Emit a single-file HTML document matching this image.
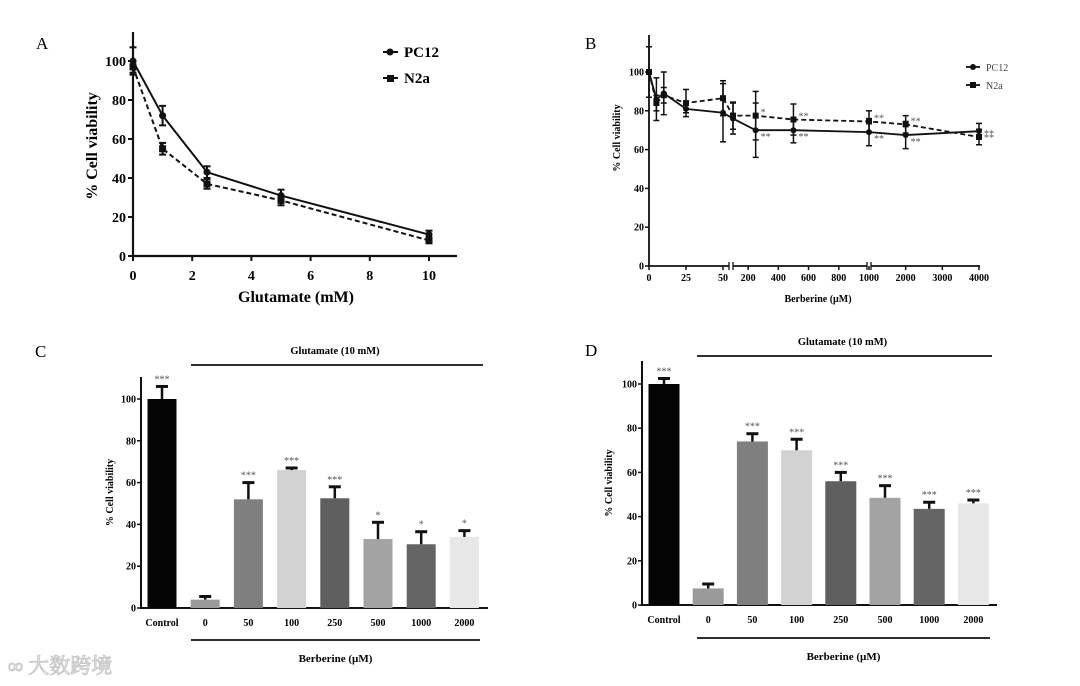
<!DOCTYPE html>
<html><head><meta charset="utf-8">
<style>
html,body{margin:0;padding:0;background:#fff;}
svg{display:block;}
text{font-family:"Liberation Serif","Noto Serif CJK SC",serif;}
</style></head>
<body>
<svg id="fig" width="1080" height="686" viewBox="0 0 1080 686"></svg>
<script>
// ---------- Panel A data ----------
const aX = [0, 1, 2.5, 5, 10];
const aPC12 = [100, 72, 43, 31, 11];
const aPC12Err = [7, 5, 3, 3, 2];
const aN2a = [97, 55, 37, 28.5, 8];
const aN2aErr = [3, 3, 2.5, 2.5, 1.5];
const aXTicks = [0, 2, 4, 6, 8, 10];
const aYTicks = [0, 20, 40, 60, 80, 100];

// ---------- Panel B data ----------
const bX = [0, 5, 10, 25, 50, 100, 250, 500, 1000, 2000, 4000];
const bPC12 = [100, 86, 89, 81, 79, 76, 70, 70, 69, 67.5, 69.5];
const bPC12Err = [13, 11, 11, 2, 15, 8, 14, 6.5, 7, 7, 4];
const bN2a = [100, 84, 88, 84, 86.5, 77.5, 77.5, 75.5, 74.5, 73, 66.5];
const bN2aErr = [0, 4, 4, 7, 9, 7, 12.5, 8, 5.5, 4.5, 4];
const bPC12Stars = ["", "", "", "", "", "", "**", "**", "**", "**", "**"];
const bN2aStars = ["", "", "", "", "", "", "*", "**", "**", "**", "**"];
const bXTicks = [0, 25, 50, 200, 400, 600, 800, 1000, 2000, 3000, 4000];
const bYTicks = [0, 20, 40, 60, 80, 100];

// ---------- Panel C data ----------
const cCats = ["Control", "0", "50", "100", "250", "500", "1000", "2000"];
const cVals = [100, 4, 52, 66, 52.5, 33, 30.5, 34];
const cErr = [6, 1.5, 8, 1, 5.5, 8, 6, 3];
const cStars = ["***", "", "***", "***", "***", "*", "*", "*"];

// ---------- Panel D data ----------
const dCats = ["Control", "0", "50", "100", "250", "500", "1000", "2000"];
const dVals = [100, 7.5, 74, 70, 56, 48.5, 43.5, 46];
const dErr = [2.5, 2, 3.5, 5, 4, 5.5, 3, 1.5];
const dStars = ["***", "", "***", "***", "***", "***", "***", "***"];

const barTicks = [0, 20, 40, 60, 80, 100];
const barColors = ["#050505", "#9a9a9a", "#7f7f7f", "#d2d2d2", "#5f5f5f", "#a3a3a3", "#656565", "#e8e8e8"];

const NS = "http://www.w3.org/2000/svg";
const svg = document.getElementById("fig");
function el(tag, attrs, parent) {
  const e = document.createElementNS(NS, tag);
  for (const k in attrs) e.setAttribute(k, attrs[k]);
  (parent || svg).appendChild(e);
  return e;
}
function txt(s, attrs, parent) { const t = el("text", attrs, parent); t.textContent = s; return t; }
function line(x1, y1, x2, y2, w, parent, dash) {
  const a = {x1, y1, x2, y2, stroke: "#111", "stroke-width": w};
  if (dash) a["stroke-dasharray"] = dash;
  return el("line", a, parent);
}

// ================= PANEL A =================
(function () {
  const g = el("g", {});
  
  
  const sx = v => 133 + v * 29.6;
  const sy = v => 256 - v * 1.95;
  txt("A", {x: 36, y: 49, "font-size": 17}, g);
  line(133, 32, 133, 257, 2.2, g);
  line(132, 256, 457, 256, 2.2, g);
  aYTicks.forEach(t => {
    line(128, sy(t), 133, sy(t), 2, g);
    const lb = txt(String(t), {x: 126, y: sy(t) + 5, "font-size": 14, "font-weight": "bold", "text-anchor": "end"}, g);
    
    
  });
  aXTicks.forEach(t => {
    line(sx(t), 256, sx(t), 261, 2, g);
    const lb = txt(String(t), {x: sx(t), y: 280, "font-size": 14, "font-weight": "bold", "text-anchor": "middle"}, g);
    
    
  });
  const xt = txt("Glutamate (mM)", {x: 296, y: 302, "font-size": 16, "font-weight": "bold", "text-anchor": "middle"}, g);
  
  
  const yt = txt("% Cell viability", {x: 0, y: 0, "font-size": 16, "font-weight": "bold", "text-anchor": "middle", transform: "translate(97,146) rotate(-90)"}, g);
  
  
  function series(ys, errs, dash, name, marker) {
    const pts = aX.map((x, i) => sx(x) + "," + sy(ys[i])).join(" ");
    const pl = el("polyline", {points: pts, fill: "none", stroke: "#111", "stroke-width": 2, "stroke-dasharray": dash || "none"}, g);
    
    
    aX.forEach((x, i) => {
      const cx = sx(x), cy = sy(ys[i]), e = errs[i] * 1.95;
      line(cx, cy - e, cx, cy + e, 2, g);
      line(cx - 3.5, cy - e, cx + 3.5, cy - e, 2, g);
      line(cx - 3.5, cy + e, cx + 3.5, cy + e, 2, g);
      const m = marker === "circle" ? el("circle", {cx, cy, r: 3.5, fill: "#111"}, g)
        : el("rect", {x: cx - 3.5, y: cy - 3.5, width: 7, height: 7, fill: "#111"}, g);
      
      
    });
  }
  series(aPC12, aPC12Err, null, "pc12", "circle");
  series(aN2a, aN2aErr, "5,3", "n2a", "square");
  const l1 = el("g", {}, g);
  
  
  line(383, 52, 398, 52, 2, l1); el("circle", {cx: 390, cy: 52, r: 3.5, fill: "#111"}, l1);
  txt("PC12", {x: 404, y: 57, "font-size": 15, "font-weight": "bold"}, l1);
  const l2 = el("g", {}, g);
  
  
  line(383, 78, 398, 78, 2, l2); el("rect", {x: 387, y: 75, width: 7, height: 7, fill: "#111"}, l2);
  txt("N2a", {x: 404, y: 83, "font-size": 15, "font-weight": "bold"}, l2);
})();

// ================= PANEL B =================
(function () {
  const g = el("g", {});
  
  
  function sx(v) {
    if (v <= 50) return 649 + v * 74 / 50;
    if (v <= 1000) return 733 + (v - 100) * (869 - 733) / 900;
    return 869 + (v - 1000) * 110 / 3000;
  }
  const sy = v => 266 - v * 1.94;
  txt("B", {x: 585, y: 49, "font-size": 17}, g);
  line(649, 35, 649, 267, 1.8, g);
  line(648, 266, 980, 266, 1.8, g);
  // axis breaks
  [731, 869].forEach(bx => {
    el("rect", {x: bx - 2, y: 262, width: 4, height: 8, fill: "#fff"}, g);
    line(bx - 2, 262, bx - 2, 270, 1.3, g); line(bx + 2, 262, bx + 2, 270, 1.3, g);
  });
  bYTicks.forEach(t => {
    line(645, sy(t), 649, sy(t), 1.5, g);
    const lb = txt(String(t), {x: 644, y: sy(t) + 3.5, "font-size": 10, "font-weight": "bold", "text-anchor": "end"}, g);
    
    
  });
  bXTicks.forEach(t => {
    line(sx(t), 266, sx(t), 270, 1.5, g);
    const lb = txt(String(t), {x: sx(t), y: 281, "font-size": 10, "font-weight": "bold", "text-anchor": "middle"}, g);
    
    
  });
  const xt = txt("Berberine (µM)", {x: 818, y: 302, "font-size": 10, "font-weight": "bold", "text-anchor": "middle"}, g);
  
  
  const yt = txt("% Cell viability", {x: 0, y: 0, "font-size": 10, "font-weight": "bold", "text-anchor": "middle", transform: "translate(620,138) rotate(-90)"}, g);
  
  
  function series(ys, errs, stars, dash, name, marker, dy) {
    const pts = bX.map((x, i) => sx(x) + "," + sy(ys[i])).join(" ");
    const pl = el("polyline", {points: pts, fill: "none", stroke: "#111", "stroke-width": 1.8, "stroke-dasharray": dash || "none"}, g);
    
    
    bX.forEach((x, i) => {
      const cx = sx(x), cy = sy(ys[i]), e = errs[i] * 1.94;
      if (e > 0) {
        line(cx, cy - e, cx, cy + e, 1.5, g);
        line(cx - 3, cy - e, cx + 3, cy - e, 1.5, g);
        line(cx - 3, cy + e, cx + 3, cy + e, 1.5, g);
      }
      const m = marker === "circle" ? el("circle", {cx, cy, r: 3, fill: "#111"}, g)
        : el("rect", {x: cx - 3, y: cy - 3, width: 6, height: 6, fill: "#111"}, g);
      
      
      if (stars[i]) txt(stars[i], {x: cx + 5, y: cy + dy, "font-size": 10, fill: "#555"}, g);
    });
  }
  series(bPC12, bPC12Err, bPC12Stars, null, "b-pc12", "circle", 10);
  series(bN2a, bN2aErr, bN2aStars, "5,3", "b-n2a", "square", 0);
  const l1 = el("g", {}, g);
  
  
  line(966, 67, 980, 67, 1.8, l1); el("circle", {cx: 973, cy: 67, r: 3, fill: "#111"}, l1);
  txt("PC12", {x: 986, y: 71, "font-size": 10, fill: "#444"}, l1);
  const l2 = el("g", {}, g);
  
  
  line(966, 85, 980, 85, 1.8, l2); el("rect", {x: 970, y: 82, width: 6, height: 6, fill: "#111"}, l2);
  txt("N2a", {x: 986, y: 89, "font-size": 10, fill: "#444"}, l2);
})();

// ================= BAR PANELS =================
function barPanel(o) {
  const g = el("g", {});
  
  
  const sy = v => o.y0 - v * (o.y0 - o.y100) / 100;
  const sx = i => o.x0 + i * o.step;
  txt(o.letter, {x: o.lx, y: o.ly, "font-size": 17}, g);
  line(o.ax, o.top, o.ax, o.y0 + 1, 2, g);
  line(o.ax - 1, o.y0, o.xEnd, o.y0, 2, g);
  barTicks.forEach(t => {
    line(o.ax - 4, sy(t), o.ax, sy(t), 1.5, g);
    const lb = txt(String(t), {x: o.ax - 5, y: sy(t) + 3.5, "font-size": 10, "font-weight": "bold", "text-anchor": "end"}, g);
    
    
  });
  o.cats.forEach((c, i) => {
    const cx = sx(i), v = o.vals[i], e = o.err[i];
    const b = el("rect", {x: cx - o.bw / 2, y: sy(v), width: o.bw, height: o.y0 - sy(v), fill: barColors[i]}, g);
    
    
    line(cx, sy(v), cx, sy(v + e), 2.5, g);
    line(cx - 6, sy(v + e), cx + 6, sy(v + e), 3, g);
    if (o.stars[i]) txt(o.stars[i], {x: cx, y: sy(v + e) - 4, "font-size": 10, fill: "#555", "text-anchor": "middle"}, g);
    const lb = txt(c, {x: cx, y: o.y0 + 18, "font-size": 10, "font-weight": "bold", "text-anchor": "middle"}, g);
    
    
  });
  const yt = txt("% Cell viability", {x: 0, y: 0, "font-size": 10, "font-weight": "bold", "text-anchor": "middle", transform: "translate(" + o.ytx + "," + ((o.y0 + o.top) / 2) + ") rotate(-90)"}, g);
  
  
  line(o.g1, o.gy, o.g2, o.gy, 1.8, g);
  const gl = txt("Glutamate (10 mM)", {x: (o.g1 + o.g2) / 2 - 2, y: o.gy - 11, "font-size": 10.5, "font-weight": "bold", "text-anchor": "middle"}, g);
  
  
  line(o.g1, o.by, o.b2, o.by, 1.8, g);
  const bl = txt("Berberine (µM)", {x: (o.g1 + o.b2) / 2, y: o.by + 22, "font-size": 11, "font-weight": "bold", "text-anchor": "middle"}, g);
  
  
}
barPanel({name: "panel-c", letter: "C", lx: 35, ly: 357, cats: cCats, vals: cVals, err: cErr, stars: cStars,
  ax: 141, top: 377, y0: 608, y100: 399, xEnd: 488, x0: 162, step: 43.2, bw: 29, ytx: 113,
  g1: 191, g2: 483, gy: 365, by: 640, b2: 480});
barPanel({name: "panel-d", letter: "D", lx: 585, ly: 356, cats: dCats, vals: dVals, err: dErr, stars: dStars,
  ax: 642, top: 361, y0: 605, y100: 384, xEnd: 997, x0: 664, step: 44.2, bw: 31, ytx: 612,
  g1: 697, g2: 992, gy: 356, by: 638, b2: 990});

// watermark
const wm = txt("∞ 大数跨境", {x: 8, y: 673, "font-size": 21, fill: "none", stroke: "#c8c8c8", "stroke-width": 1, "font-family": "\"Liberation Sans\",\"Noto Sans CJK SC\",sans-serif"});


</script>
</body></html>
